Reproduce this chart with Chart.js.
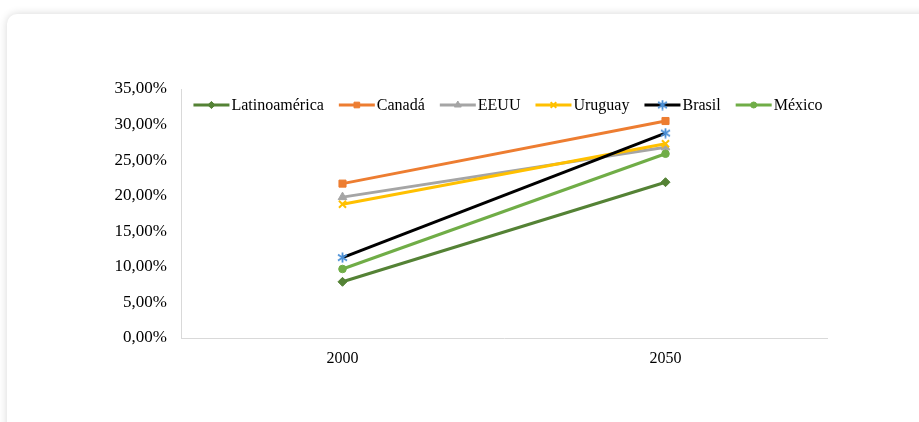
<!DOCTYPE html>
<html>
<head>
<meta charset="utf-8">
<script src="https://cdn.jsdelivr.net/npm/chart.js@4.4.1/dist/chart.umd.min.js"></script>
<style>
  html, body { margin: 0; padding: 0; background: #ffffff; overflow: hidden; }
  #wrap { position: relative; width: 919px; height: 422px; }
  #card {
    position: absolute; left: 7px; top: 14px; width: 960px; height: 460px;
    background: #ffffff; border-radius: 10px;
    box-shadow: 0 0 9px rgba(0,0,0,0.16);
  }
  #chart { position: absolute; left: 0; top: 0; }
</style>
</head>
<body>
<div id="wrap">
  <div id="card"></div>
  <canvas id="chart" width="919" height="422"></canvas>
</div>
<script>
// Share of population (%) by year
const years = ['2000', '2050'];
const seriesNames = ['Latinoamérica', 'Canadá', 'EEUU', 'Uruguay', 'Brasil', 'México'];
const latinoamerica = [0.079, 0.219];
const canada = [0.217, 0.305];
const eeuu = [0.198, 0.268];
const uruguay = [0.188, 0.273];
const brasil = [0.113, 0.288];
const mexico = [0.097, 0.259];
const yTicks = [0, 0.05, 0.10, 0.15, 0.20, 0.25, 0.30, 0.35];

const FONT = '"Liberation Serif", "Times New Roman", serif';

// six-armed asterisk marker used for Brasil
function starMarker(color) {
  const c = document.createElement('canvas');
  c.width = 11; c.height = 11;
  const g = c.getContext('2d');
  g.strokeStyle = color; g.lineWidth = 1.8; g.lineCap = 'butt';
  g.beginPath();
  g.moveTo(5.5, 0.5); g.lineTo(5.5, 10.5);
  g.moveTo(1, 2.5); g.lineTo(10, 8.5);
  g.moveTo(1, 8.5); g.lineTo(10, 2.5);
  g.stroke();
  return c;
}

const styles = [
  { color: '#548235', point: 'rectRot', radius: 4.5, pColor: '#548235' },
  { color: '#ED7D31', point: 'rect', radius: 5, pColor: '#ED7D31' },
  { color: '#A5A5A5', point: 'triangle', radius: 5, pColor: '#A5A5A5' },
  { color: '#FFC000', point: 'crossRot', radius: 5, pColor: '#FFC000' },
  { color: '#000000', point: starMarker('#4A8FD6'), radius: 5, pColor: '#4A8FD6' },
  { color: '#70AD47', point: 'circle', radius: 3.8, pColor: '#70AD47' }
];
const values = [latinoamerica, canada, eeuu, uruguay, brasil, mexico];

const datasets = seriesNames.map((name, i) => ({
  label: name,
  data: values[i],
  borderColor: styles[i].color,
  backgroundColor: styles[i].pColor,
  borderWidth: 3,
  tension: 0,
  pointStyle: styles[i].point,
  pointRadius: styles[i].radius,
  pointHoverRadius: styles[i].radius,
  pointBackgroundColor: styles[i].pColor,
  pointBorderColor: styles[i].pColor,
  pointBorderWidth: styles[i].point === 'crossRot' ? 2 : 1,
  order: seriesNames.length - i
}));

// legend drawn as line + marker + label, centred above the plot
const lineLegend = {
  id: 'lineLegend',
  afterDraw(chart) {
    const ctx = chart.ctx;
    const area = chart.chartArea;
    ctx.save();
    ctx.font = '16px ' + FONT;
    ctx.textBaseline = 'middle';
    const lineLen = 36, gap = 2, spacing = 15;
    const widths = chart.data.datasets.map(d => lineLen + gap + ctx.measureText(d.label).width);
    const total = widths.reduce((a, b) => a + b, 0) + spacing * (widths.length - 1);
    let x = (area.left + area.right) / 2 + 4 - total / 2;
    const y = 105;
    chart.data.datasets.forEach((d, i) => {
      ctx.strokeStyle = d.borderColor;
      ctx.lineWidth = 3;
      ctx.beginPath();
      ctx.moveTo(x, y); ctx.lineTo(x + lineLen, y);
      ctx.stroke();
      ctx.fillStyle = d.pointBackgroundColor;
      ctx.strokeStyle = d.pointBorderColor;
      ctx.lineWidth = d.pointBorderWidth;
      Chart.helpers.drawPoint(ctx, {
        pointStyle: d.pointStyle, radius: d.pointRadius * 0.8, rotation: 0,
        borderWidth: d.pointBorderWidth
      }, x + lineLen / 2, y);
      ctx.fillStyle = '#000000';
      ctx.textAlign = 'left';
      ctx.fillText(d.label, x + lineLen + gap, y + 1);
      x += widths[i] + spacing;
    });
    ctx.restore();
  }
};

new Chart(document.getElementById('chart'), {
  type: 'line',
  data: { labels: years, datasets },
  options: {
    responsive: false,
    animation: false,
    layout: { padding: { top: 89, right: 92, left: 0, bottom: 0 } },
    plugins: { legend: { display: false }, tooltip: { enabled: false } },
    scales: {
      x: {
        offset: true,
        grid: { display: false, drawTicks: false },
        border: { display: true, color: '#D9D9D9', width: 1 },
        ticks: { color: '#000000', font: { family: FONT, size: 16 }, padding: 11 },
        afterFit(scale) { scale.height = 84; }
      },
      y: {
        min: 0, max: 0.35,
        grid: { display: false, drawTicks: false },
        border: { display: true, color: '#D9D9D9', width: 1 },
        afterBuildTicks(scale) { scale.ticks = yTicks.map(v => ({ value: v })); },
        ticks: {
          color: '#000000', font: { family: FONT, size: 17 }, padding: 14,
          callback: v => (v * 100).toFixed(2).replace('.', ',') + '%'
        },
        afterFit(scale) { scale.width = 181; }
      }
    }
  },
  plugins: [lineLegend]
});
</script>
</body>
</html>
